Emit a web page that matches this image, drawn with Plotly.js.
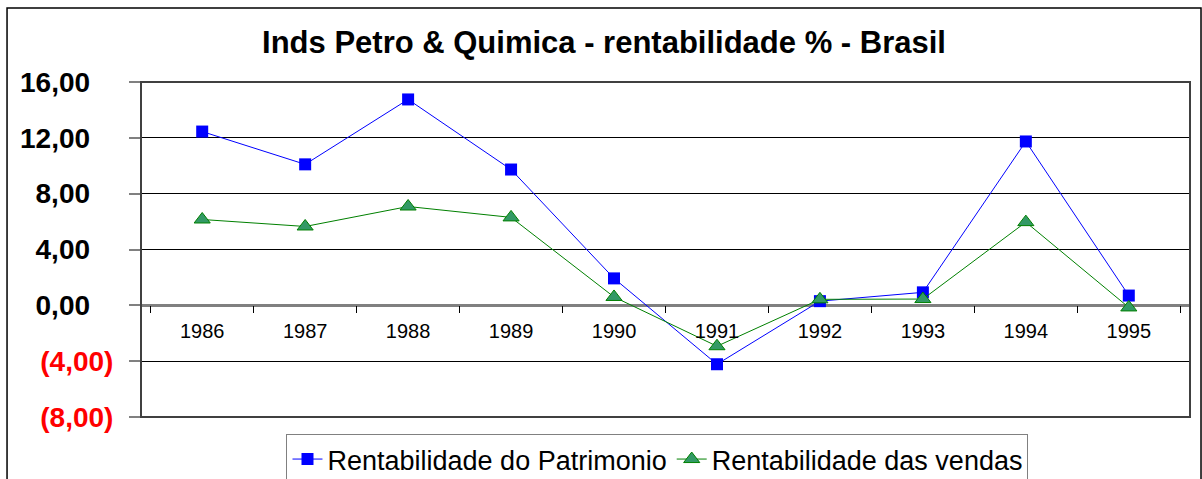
<!DOCTYPE html>
<html><head><meta charset="utf-8">
<script src="https://cdn.plot.ly/plotly-3.0.1.min.js"></script>
<style>html,body{margin:0;padding:0;background:#fff;}#chart{width:1202px;height:479px;}</style>
</head><body><div id="chart"></div>
<script>
const years = ['1986','1987','1988','1989','1990','1991','1992','1993','1994','1995'];
const rentPatrimonio = [12.45, 10.1, 14.75, 9.73, 1.93, -4.22, 0.3, 0.93, 11.74, 0.7];
const rentVendas = [6.15, 5.65, 7.08, 6.3, 0.6, -2.93, 0.43, 0.45, 5.96, -0.15];
const yTickVals = [16, 12, 8, 4, 0, -4, -8];
const yTickText = ['16,00\u00a0\u00a0\u00a0', '12,00\u00a0\u00a0\u00a0', '8,00\u00a0\u00a0\u00a0', '4,00\u00a0\u00a0\u00a0', '0,00\u00a0\u00a0\u00a0',
  '<span style="color:#FF0000">(4,00)</span>', '<span style="color:#FF0000">(8,00)</span>'];
const seriesNames = ['Rentabilidade do Patrimonio', 'Rentabilidade das vendas'];
const titleText = '<b>Inds Petro &amp; Quimica - rentabilidade % - Brasil</b>';

const font = 'Arial, "Liberation Sans", sans-serif';
const traces = [
  {x: years, y: rentPatrimonio, name: seriesNames[0], type: 'scatter', mode: 'lines+markers',
   line: {color: '#0000FF', width: 1}, marker: {symbol: 'square', size: 12, color: '#0000FF'}},
  {x: years, y: rentVendas, name: seriesNames[1], type: 'scatter', mode: 'lines+markers',
   line: {color: '#008000', width: 1}, marker: {symbol: 'triangle-up', size: 14, color: '#339966', line: {color: '#008000', width: 1}}}
];
const layout = {
  width: 1202, height: 479,
  margin: {l: 141, r: 12, t: 82, b: 62},
  paper_bgcolor: '#fff', plot_bgcolor: '#fff',
  font: {family: font, color: '#000'},
  showlegend: true,
  title: {text: titleText, font: {family: font, size: 31, color: '#000'}, x: 0.5025, xref: 'container', y: 0.912, yref: 'container', yanchor: 'middle'},
  xaxis: {type: 'category', anchor: 'free', position: 1/3, showgrid: false, showline: false, zeroline: false,
    ticks: 'outside', tickson: 'boundaries', ticklen: 7, tickcolor: '#000', tickwidth: 1,
    tickfont: {family: font, size: 20, color: '#000'}, ticklabelstandoff: 12, fixedrange: true},
  yaxis: {range: [-8, 16], tickvals: yTickVals, ticktext: yTickText, showgrid: true, gridcolor: '#000', gridwidth: 1,
    zeroline: true, zerolinecolor: '#808080', zerolinewidth: 2.5, showline: false,
    ticks: 'outside', ticklen: 11, tickcolor: '#808080', tickwidth: 2,
    tickfont: {family: font, size: 28, color: '#000', weight: 'bold'}, ticklabelstandoff: 10, fixedrange: true},
  legend: {orientation: 'h', x: 0.5470, xref: 'container', xanchor: 'center', y: 1 - 434/479, yref: 'container', yanchor: 'top',
    bordercolor: '#808080', borderwidth: 1, bgcolor: '#fff', font: {family: font, size: 27, color: '#000'}},
  shapes: [
    {type: 'rect', xref: 'paper', yref: 'paper', x0: 0, x1: 1, y0: 0, y1: 1, line: {color: '#404040', width: 2}, layer: 'above'},
    {type: 'rect', xref: 'paper', yref: 'paper', x0: -0.1277, x1: 1.0105, y0: -0.25, y1: 1.2209, line: {color: '#000', width: 1.5}, layer: 'below'}
  ]
};
Plotly.newPlot('chart', traces, layout, {displayModeBar: false, staticPlot: true});
</script></body></html>
